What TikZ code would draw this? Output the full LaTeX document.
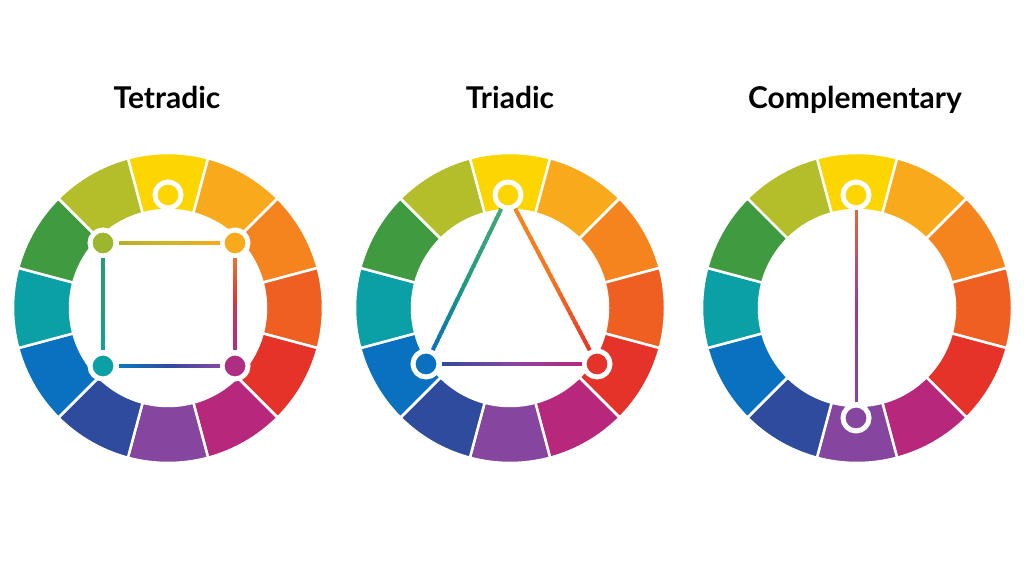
\documentclass[tikz,border=0pt]{standalone}
\usepackage{fontspec}
\setmainfont{Lato}
\usepackage{tikz}
\usetikzlibrary{calc}
\definecolor{cY}{HTML}{FDD500}
\definecolor{cYO}{HTML}{F8A91C}
\definecolor{cO}{HTML}{F5841F}
\definecolor{cRO}{HTML}{F05F22}
\definecolor{cR}{HTML}{E6332A}
\definecolor{cRV}{HTML}{B7287C}
\definecolor{cV}{HTML}{8646A0}
\definecolor{cBV}{HTML}{2E4B9E}
\definecolor{cB}{HTML}{0A71C0}
\definecolor{cBG}{HTML}{0AA0A6}
\definecolor{cG}{HTML}{3F9A40}
\definecolor{cYG}{HTML}{B3BE2A}
\tikzset{
  dot/.style={circle,draw=white,line width=5pt,minimum size=26pt,inner sep=0pt},
  title/.style={font=\fontsize{30}{34}\selectfont\bfseries,anchor=base},
}
\newcommand{\ColorWheel}[2]{% cx cy
\foreach \col [count=\i from 0] in {cY,cYO,cO,cRO,cR,cRV,cV,cBV,cB,cBG,cG,cYG}{
\pgfmathsetmacro{\aa}{105-30*\i}
\pgfmathsetmacro{\ab}{75-30*\i}
\filldraw[fill=\col,draw=white,line width=2.5pt,shift={(#1,#2)}]
  (\aa:155) arc[start angle=\aa,end angle=\ab,radius=155]
  -- (\ab:98) arc[start angle=\ab,end angle=\aa,radius=98] -- cycle;
}}
\newcommand{\GradLink}[6]{% from to width colA colMid colB
\path (#1) -- (#2) coordinate[pos=0] (gA) coordinate[pos=1] (gB);
\foreach \k in {0,...,29}{
\pgfmathsetmacro{\ta}{\k/30}
\pgfmathsetmacro{\tb}{min(1,(\k+1.3)/30)}
\ifnum\k<15
  \pgfmathtruncatemacro{\m}{100*(1-(\k+0.5)/15)}
  \draw[line width=#3,#4!\m!#5] ($(gA)!\ta!(gB)$) -- ($(gA)!\tb!(gB)$);
\else
  \pgfmathtruncatemacro{\m}{100*(1-(\k-14.5)/15)}
  \draw[line width=#3,#5!\m!#6] ($(gA)!\ta!(gB)$) -- ($(gA)!\tb!(gB)$);
\fi
}}

\begin{document}
\begin{tikzpicture}[x=1pt,y=1pt]
\useasboundingbox[fill=white] (0,0) rectangle (1024,585);
% titles
\node[title] (ttet) at (167,476) {Tetradic};
\node[title] (ttri) at (510,476) {Triadic};
\node[title] (tcom) at (855,476) {Complementary};
% wheels
\ColorWheel{168}{277}
\ColorWheel{510}{277}
\ColorWheel{857}{277}
% tetradic
\node[dot,fill=cY] (tY) at (168,390) {};
\node[dot,fill=cYG!80!cG] (tYG) at (103,342) {};
\node[dot,fill=cYO] (tYO) at (235,342) {};
\node[dot,fill=cBG] (tBG) at (103,219) {};
\node[dot,fill=cRV!80!cV] (tRV) at (235,219) {};
\GradLink{tYG}{tYO}{4pt}{cYG!70!cG}{cYG!60!cYO}{cYO}
\GradLink{tYG}{tBG}{4pt}{cG}{cG!50!cBG}{cBG}
\GradLink{tYO}{tRV}{4pt}{cO}{cR!80!cRV}{cRV!80!cV}
\GradLink{tBG}{tRV}{4pt}{cB!80!cBG}{cBV}{cV}
% triadic
\node[dot,fill=cY] (trY) at (508,390) {};
\node[dot,fill=cB] (trB) at (426,221) {};
\node[dot,fill=cR] (trR) at (597,221) {};
\GradLink{trY}{trB}{4pt}{cYG!80!cG}{cG!40!cBG}{cB}
\GradLink{trY}{trR}{4pt}{cYO!80!cO}{cO!60!cRO}{cR}
\GradLink{trB}{trR}{4pt}{cBV}{cV}{cRV}
% complementary
\node[dot,fill=cY] (cmY) at (856,390) {};
\node[dot,fill=cV] (cmV) at (856,167) {};
\GradLink{cmY}{cmV}{3pt}{cO}{cV!70!cRV}{cV}
\end{tikzpicture}
\end{document}
